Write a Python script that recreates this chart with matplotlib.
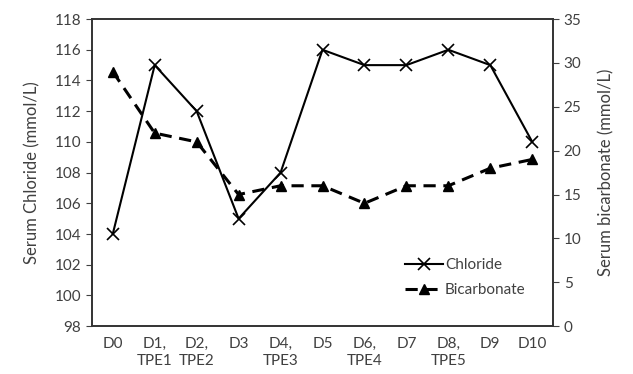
import numpy as np
import matplotlib.pyplot as plt

plt.rcParams['font.family'] = ['Lato', 'DejaVu Sans']

days = ['D0', 'D1,\nTPE1', 'D2,\nTPE2', 'D3', 'D4,\nTPE3', 'D5', 'D6,\nTPE4',
        'D7', 'D8,\nTPE5', 'D9', 'D10']
chloride = [104, 115, 112, 105, 108, 116, 115, 115, 116, 115, 110]
bicarbonate = [29, 22, 21, 15, 16, 16, 14, 16, 16, 18, 19]

text_color = '#404040'

fig = plt.figure(figsize=(6.33, 3.74), dpi=100)
ax = fig.add_axes([0.145, 0.128, 0.729, 0.821])
ax2 = ax.twinx()

x = np.arange(len(days))
l1, = ax.plot(x, chloride, color='black', lw=1.5, marker='x', markersize=8,
              markeredgewidth=1.2, label='Chloride')
l2, = ax2.plot(x, bicarbonate, color='black', lw=2.2, linestyle=(0, (4, 2.5)),
               marker='^', markersize=7, label='Bicarbonate')

ax.set_xlim(-0.5, len(days) - 0.5)
ax.set_ylim(98, 118)
ax.set_yticks(np.arange(98, 119, 2))
ax2.set_ylim(0, 35)
ax2.set_yticks(np.arange(0, 36, 5))

ax.set_xticks(x)
ax.set_xticklabels(days, color=text_color, fontsize=11, linespacing=1.25)
ax.tick_params(axis='x', length=0, pad=8)
ax.tick_params(axis='y', length=4, direction='out', colors=text_color,
               labelsize=11)
ax2.tick_params(axis='y', length=4, direction='out', colors=text_color,
                labelsize=11)

ax.set_ylabel('Serum Chloride (mmol/L)', color=text_color, fontsize=12,
              labelpad=10)
ax2.set_ylabel('Serum bicarbonate (mmol/L)', color=text_color, fontsize=12,
               labelpad=12)

for a in (ax, ax2):
    for s in a.spines.values():
        s.set_color('#333333')
        s.set_linewidth(1.2)

ax2.legend(handles=[l1, l2], loc='lower right', bbox_to_anchor=(0.97, 0.05),
           frameon=False, fontsize=11, handlelength=2.5, handletextpad=0.1,
           labelspacing=0.7, labelcolor=text_color)

fig.savefig('out.png', dpi=100)
